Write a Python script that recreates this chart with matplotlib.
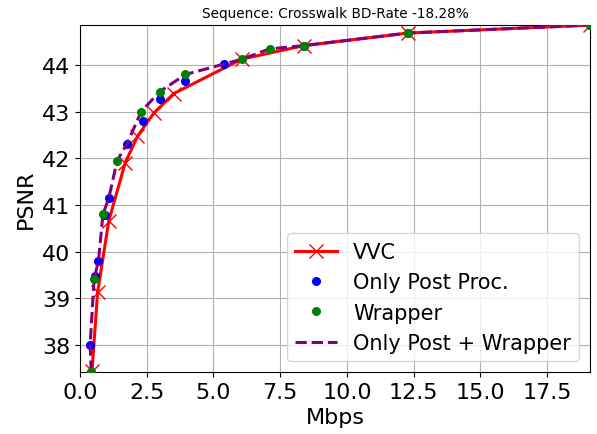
import numpy as np
import matplotlib
matplotlib.use('Agg')
import matplotlib.pyplot as plt

# bitrate (Mbps) / PSNR
vvc_rate = [0.45, 0.66, 1.08, 1.69, 2.15, 2.76, 3.51, 6.06, 8.39, 12.29, 19.1]
vvc_psnr = [37.44, 39.13, 40.66, 41.90, 42.47, 42.97, 43.39, 44.13, 44.42, 44.69, 44.86]

post_rate = [0.42, 0.38, 0.56, 0.69, 0.93, 1.08, 1.75, 2.35, 3.0, 3.95, 5.41, 8.39, 12.29, 19.1]
post_psnr = [37.42, 38.0, 39.47, 39.79, 40.78, 41.15, 42.30, 42.80, 43.28, 43.67, 44.02, 44.42, 44.69, 44.86]

wrap_rate = [0.42, 0.53, 0.86, 1.39, 2.29, 2.98, 3.95, 6.08, 7.1, 8.39, 12.29, 19.1]
wrap_psnr = [37.42, 39.42, 40.80, 41.95, 43.0, 43.43, 43.80, 44.13, 44.35, 44.42, 44.69, 44.86]

both_rate = [0.42, 0.38, 0.53, 0.69, 0.86, 1.08, 1.39, 1.75, 2.29, 2.98, 3.95, 6.08, 7.1, 8.39, 12.29, 19.1]
both_psnr = [37.42, 38.0, 39.42, 39.79, 40.80, 41.15, 41.95, 42.30, 43.0, 43.43, 43.80, 44.13, 44.35, 44.42, 44.69, 44.86]

fig, ax = plt.subplots(figsize=(5.97, 4.35), dpi=100)
fig.subplots_adjust(left=0.134, right=0.988, top=0.94, bottom=0.143)

ax.plot(vvc_rate, vvc_psnr, 'x-', color='red', lw=2.2, ms=10, label='VVC', zorder=3)
ax.plot(post_rate, post_psnr, 'o', color='blue', ms=5.5, label='Only Post Proc.', zorder=4)
ax.plot(wrap_rate, wrap_psnr, 'o', color='green', ms=5.5, label='Wrapper', zorder=5)
ax.plot(both_rate, both_psnr, '--', color='purple', lw=2.2, label='Only Post + Wrapper', zorder=4.5)

ax.set_xlim(0, max(vvc_rate))
ax.set_ylim(min(vvc_psnr + wrap_psnr), max(vvc_psnr))
ax.set_xticks(np.arange(0, 18, 2.5))
ax.set_yticks(range(38, 45))
ax.tick_params(labelsize=16)
ax.grid(True)
ax.set_xlabel('Mbps', fontsize=16)
ax.set_ylabel('PSNR', fontsize=16)
ax.set_title('Sequence: Crosswalk BD-Rate -18.28%', fontsize=9.8)
ax.legend(loc='lower right', fontsize=15)

fig.savefig('out.png')
